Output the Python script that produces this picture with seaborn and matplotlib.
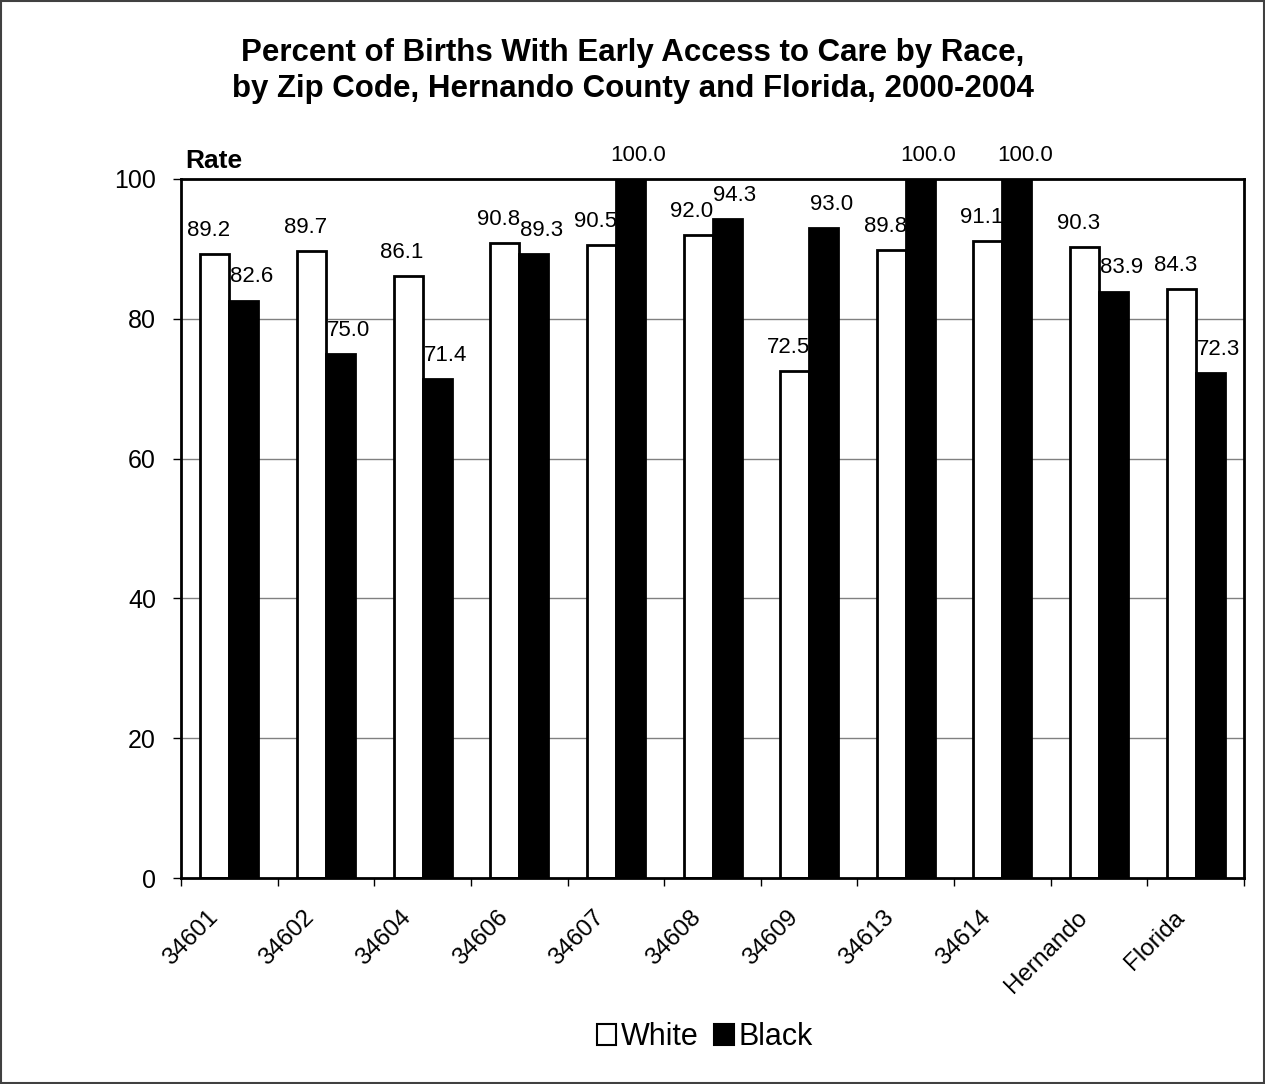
import numpy as np
import pandas as pd
import matplotlib
matplotlib.use("Agg")
import matplotlib.pyplot as plt
import matplotlib.transforms as mtransforms
from matplotlib.patches import Rectangle
import seaborn as sns

# Chart data
areas = ["34601", "34602", "34604", "34606", "34607", "34608",
         "34609", "34613", "34614", "Hernando", "Florida"]
white = [89.2, 89.7, 86.1, 90.8, 90.5, 92.0, 72.5, 89.8, 91.1, 90.3, 84.3]
black = [82.6, 75.0, 71.4, 89.3, 100.0, 94.3, 93.0, 100.0, 100.0, 83.9, 72.3]
races = ["White", "Black"]
y_ticks = [0, 20, 40, 60, 80, 100]

df = pd.DataFrame({
    "area": areas * 2,
    "race": ["White"] * len(areas) + ["Black"] * len(areas),
    "rate": white + black,
})

sns.set_theme(style="white")
plt.rcParams["font.family"] = ["Liberation Sans", "DejaVu Sans"]
plt.rcParams["text.color"] = "black"
plt.rcParams["xtick.color"] = "black"
plt.rcParams["ytick.color"] = "black"

fig = plt.figure(figsize=(12.65, 10.84), dpi=100)
ax = fig.add_axes([0.1431, 0.190, 0.8403, 0.6449])

sns.barplot(data=df, x="area", y="rate", hue="race", hue_order=races,
            palette={"White": "white", "Black": "black"},
            width=0.6, edgecolor="black", linewidth=2.0, ax=ax,
            legend=False, saturation=1)

ax.set_ylim(0, 100)
ax.set_xlim(-0.5, len(areas) - 0.5)
ax.set_yticks(y_ticks)
ax.set_yticklabels([str(t) for t in y_ticks], fontsize=18)
for t in y_ticks[1:-1]:
    ax.axhline(t, color="#808080", lw=1.0, zorder=0)

# data labels (white nudged left, black nudged right, as in the original)
for cont, dx in zip(ax.containers, [-6, 8]):
    for bar in cont:
        h = bar.get_height()
        ax.annotate(f"{h:.1f}", (bar.get_x() + bar.get_width() / 2, h),
                    xytext=(dx * 0.72, 17), textcoords="offset points",
                    ha="center", va="center", fontsize=16, clip_on=False)

# x axis: tick marks at group boundaries, rotated names under each group
ax.set_xticks(range(len(areas)))
ax.set_xticklabels([])
ax.set_xticks(np.arange(-0.5, len(areas)), minor=True)
ax.tick_params(axis="x", which="major", length=0)
ax.tick_params(axis="x", which="minor", length=6, width=1, color="black",
               direction="out", bottom=True)
ax.tick_params(axis="y", which="major", length=6, width=1, color="black",
               direction="out", left=True, pad=12)
lab_tr = (mtransforms.blended_transform_factory(ax.transData, ax.transAxes)
          + mtransforms.ScaledTranslation(-15 / 100, -36 / 100,
                                          fig.dpi_scale_trans))
for i, name in enumerate(areas):
    ax.text(i, 0, name, transform=lab_tr, rotation=45, rotation_mode="anchor",
            ha="right", va="center", fontsize=17.5, clip_on=False)
ax.set_xlabel("")
ax.set_ylabel("")
for s in ax.spines.values():
    s.set_visible(True)
    s.set_color("black")
    s.set_linewidth(2)

ax.text(0.004, 1.008, "Rate", transform=ax.transAxes, fontsize=19,
        fontweight="bold", ha="left", va="bottom")

fig.text(0.5, 0.9345, "Percent of Births With Early Access to Care by Race,\n"
         "by Zip Code, Hernando County and Florida, 2000-2004",
         ha="center", va="center", fontsize=22.5, fontweight="bold",
         linespacing=1.3)

# legend
handles = [Rectangle((0, 0), 1, 1, facecolor=c, edgecolor="black", lw=1.5)
           for c in ["white", "black"]]
fig.legend(handles, races, loc="center", bbox_to_anchor=(0.557, 0.043),
           ncol=2, frameon=False, fontsize=22, handlelength=0.65,
           handleheight=0.65, handletextpad=0.15, columnspacing=0.5)

# outer frame
fig.patches.append(Rectangle((0.001, 0.001), 0.998, 0.998,
                             transform=fig.transFigure, fill=False,
                             edgecolor="#404040", lw=1.5))

fig.savefig("out.png", dpi=100)
